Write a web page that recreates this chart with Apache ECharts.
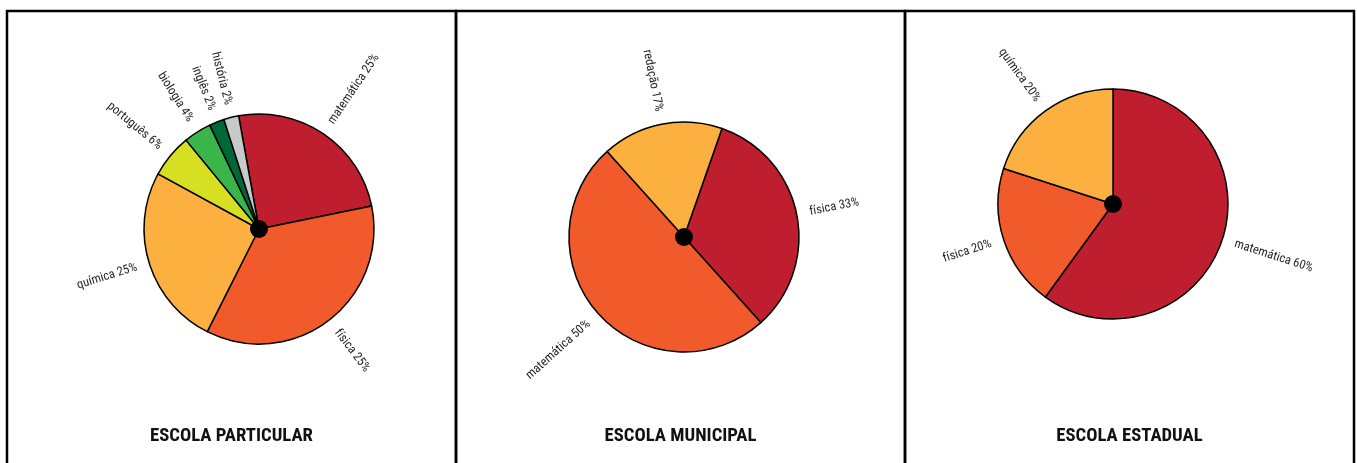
<!DOCTYPE html>
<html>
<head>
<meta charset="utf-8">
<script src="https://cdn.jsdelivr.net/npm/echarts@6/dist/echarts.min.js"></script>
<style>
  html, body { margin: 0; padding: 0; background: #fff; }
  #chart { width: 1357px; height: 463px; }
</style>
</head>
<body>
<div id="chart"></div>
<script>
// escola particular
const particularNomes = ['matemática', 'física', 'química', 'português', 'biologia', 'inglês', 'história'];
const particularValores = [24.6, 35.6, 25.5, 6.1, 3.9, 2.1, 2.1];
const particularRotulos = ['25%', '25%', '25%', '6%', '4%', '2%', '2%'];
const particularCores = ['#be1e2d', '#f15a2b', '#fbb040', '#d7df23', '#39b54a', '#006838', '#c8c9cb'];

// escola municipal
const municipalNomes = ['física', 'matemática', 'redação'];
const municipalValores = [33, 50, 17];
const municipalRotulos = ['33%', '50%', '17%'];
const municipalCores = ['#be1e2d', '#f15a2b', '#fbb040'];

// escola estadual
const estadualNomes = ['matemática', 'física', 'química'];
const estadualValores = [60, 20, 20];
const estadualRotulos = ['60%', '20%', '20%'];
const estadualCores = ['#be1e2d', '#f15a2b', '#fbb040'];

const titulos = ['ESCOLA PARTICULAR', 'ESCOLA MUNICIPAL', 'ESCOLA ESTADUAL'];

const FONTE = "'Roboto Condensed', 'Liberation Sans Narrow', sans-serif";

// layout
const paineis = [
    { x: 7, w: 449, center: [259, 229], startAngle: 100.2 },
    { x: 456, w: 449, center: [684, 237], startAngle: 70.7 },
    { x: 905, w: 449, center: [1113, 204], startAngle: 90 }
];
const RAIO = 115;

function montaDados(nomes, valores, rotulos, cores) {
    return nomes.map((n, i) => ({
        name: n,
        value: valores[i],
        rotulo: rotulos[i],
        itemStyle: { color: cores[i] }
    }));
}

const conjuntos = [
    montaDados(particularNomes, particularValores, particularRotulos, particularCores),
    montaDados(municipalNomes, municipalValores, municipalRotulos, municipalCores),
    montaDados(estadualNomes, estadualValores, estadualRotulos, estadualCores)
];

let series = [];
let graphic = [];

paineis.forEach((p, i) => {
    series.push({
        type: 'pie',
        center: p.center,
        radius: [0, RAIO],
        startAngle: p.startAngle,
        clockwise: true,
        avoidLabelOverlap: false,
        silent: true,
        data: conjuntos[i],
        itemStyle: { borderColor: '#000', borderWidth: 1.5 },
        label: {
            show: true,
            position: 'outside',
            rotate: 'radial',
            distanceToLabelLine: 0,
            fontFamily: FONTE,
            fontSize: 12.5,
            color: '#231f20',
            formatter: (d) => d.name + ' ' + d.data.rotulo
        },
        labelLine: { show: false, length: 13, length2: 0 },
        emphasis: { disabled: true }
    });
    // ponto central
    series.push({
        type: 'pie',
        center: p.center,
        radius: [0, 9],
        silent: true,
        label: { show: false },
        labelLine: { show: false },
        itemStyle: { color: '#000' },
        data: [1],
        z: 5
    });
    graphic.push({
        type: 'rect',
        shape: { x: p.x, y: 11, width: p.w, height: 480 },
        style: { fill: 'none', stroke: '#000', lineWidth: 2.5 },
        silent: true
    });
    graphic.push({
        type: 'text',
        x: p.x + p.w / 2,
        y: 436,
        style: {
            text: titulos[i],
            fill: '#111',
            font: 'bold 18.7px ' + FONTE,
            align: 'center',
            verticalAlign: 'middle'
        },
        silent: true
    });
});

const chart = echarts.init(document.getElementById('chart'));
chart.setOption({
    animation: false,
    backgroundColor: '#fff',
    series: series,
    graphic: graphic
});
</script>
</body>
</html>
